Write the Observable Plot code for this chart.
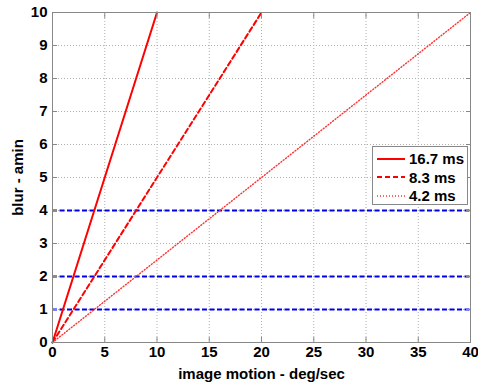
<!DOCTYPE html>
<html><head><meta charset="utf-8">
<script src="https://cdn.jsdelivr.net/npm/d3@7"></script>
<script src="https://cdn.jsdelivr.net/npm/@observablehq/plot@0.6"></script>
<style>
body{margin:0;background:#fff;}
#wrap{position:relative;width:478px;height:383px;font-family:"Liberation Sans",Arial,sans-serif;}
#wrap svg text{font-size:15px !important;font-weight:bold !important;font-family:"Liberation Sans",Arial,sans-serif;}
#legend{position:absolute;left:372px;top:146px;width:96px;height:59px;border:1px solid #888;background:#fff;box-sizing:border-box;font-weight:bold;font-size:15px;}
#legend .row{position:absolute;left:4px;height:19px;display:flex;align-items:center;}
#legend svg{margin-right:4px;}
</style></head>
<body><div id="wrap"><div id="legend"></div></div>
<script>
const series = ["16.7 ms", "8.3 ms", "4.2 ms"];
const motionEnd = [10, 20, 40];   // deg/sec where blur reaches 10 amin
const blurEnd = [10, 10, 10];
const limits = [1, 2, 4];          // horizontal blue reference lines (amin)
const xTicks = [0,5,10,15,20,25,30,35,40];
const yTicks = [0,1,2,3,4,5,6,7,8,9,10];
const styles = [
  {stroke:"#ff0000", width:2, dash:null},
  {stroke:"#ff0000", width:2, dash:"5,3"},
  {stroke:"#ff3030", width:1.4, dash:"1,2"}
];

const lineData = [];
series.forEach((s,i)=>{
  lineData.push({s, x:0, y:0});
  lineData.push({s, x:motionEnd[i], y:blurEnd[i]});
});

const tickStyle = {tickSize:-5, stroke:"#888"};

const plot = Plot.plot({
  width:478, height:383,
  marginLeft:52, marginRight:8, marginTop:12, marginBottom:41,
  style:{fontFamily:"Liberation Sans, Arial, sans-serif", fontSize:"15px", fontWeight:"bold", color:"#000", background:"#fff"},
  x:{domain:[0,40]},
  y:{domain:[0,10]},
  marks:[
    Plot.gridX(xTicks.filter(d=>d>0&&d<40), {stroke:"#b0b0b0", strokeOpacity:1, strokeDasharray:"1,2"}),
    Plot.gridY(yTicks.filter(d=>d>0&&d<10), {stroke:"#b0b0b0", strokeOpacity:1, strokeDasharray:"1,2"}),
    Plot.ruleY(limits, {stroke:"#0000ee", strokeWidth:1.8, strokeDasharray:"5,2.5"}),
    ...series.map((s,i)=>Plot.line(lineData.filter(d=>d.s===s), {x:"x", y:"y", stroke:styles[i].stroke, strokeWidth:styles[i].width, strokeDasharray:styles[i].dash})),
    Plot.frame({stroke:"#888"}),
    Plot.axisX(xTicks, {anchor:"bottom", ...tickStyle, tickPadding:9, fill:"#000", fontSize:15, fontWeight:"bold", label:"image motion - deg/sec", labelAnchor:"center", labelArrow:"none", labelOffset:36}),
    Plot.axisX(xTicks, {anchor:"top", ...tickStyle, tickFormat:()=>"" , label:null}),
    Plot.axisY(yTicks, {anchor:"left", ...tickStyle, tickPadding:10, fill:"#000", fontSize:15, fontWeight:"bold", label:"blur - amin", labelAnchor:"center", labelArrow:"none", labelOffset:40}),
    Plot.axisY(yTicks, {anchor:"right", ...tickStyle, tickFormat:()=>"", label:null})
  ]
});
const wrap = document.getElementById("wrap");
wrap.insertBefore(plot, wrap.firstChild);

const leg = document.getElementById("legend");
series.forEach((s,i)=>{
  const row = document.createElement("div");
  row.className = "row";
  row.style.top = (2 + i*18.5) + "px";
  const st = styles[i];
  row.innerHTML = `<svg width="28" height="10"><line x1="0" x2="28" y1="5" y2="5" stroke="${st.stroke}" stroke-width="${st.width}" ${st.dash?`stroke-dasharray="${st.dash}"`:""}/></svg><span>${s}</span>`;
  leg.appendChild(row);
});
</script></body></html>
